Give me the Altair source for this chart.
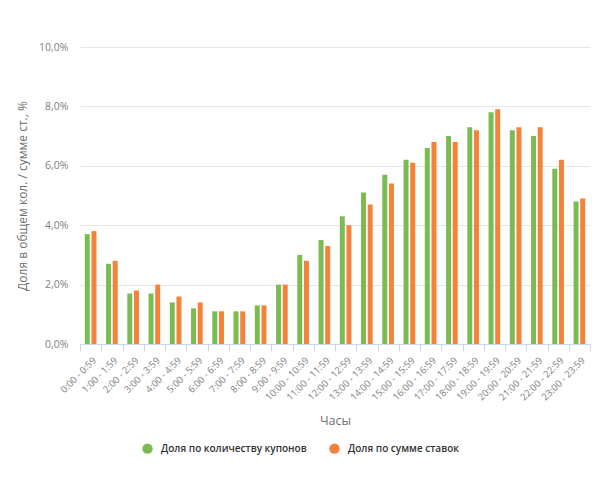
import altair as alt
import pandas as pd

hours = ["0:00 - 0:59", "1:00 - 1:59", "2:00 - 2:59", "3:00 - 3:59", "4:00 - 4:59",
         "5:00 - 5:59", "6:00 - 6:59", "7:00 - 7:59", "8:00 - 8:59", "9:00 - 9:59",
         "10:00 - 10:59", "11:00 - 11:59", "12:00 - 12:59", "13:00 - 13:59",
         "14:00 - 14:59", "15:00 - 15:59", "16:00 - 16:59", "17:00 - 17:59",
         "18:00 - 18:59", "19:00 - 19:59", "20:00 - 20:59", "21:00 - 21:59",
         "22:00 - 22:59", "23:00 - 23:59"]
coupons = [3.7, 2.7, 1.7, 1.7, 1.4, 1.2, 1.1, 1.1, 1.3, 2.0, 3.0, 3.5,
           4.3, 5.1, 5.7, 6.2, 6.6, 7.0, 7.3, 7.8, 7.2, 7.0, 5.9, 4.8]
stakes = [3.8, 2.8, 1.8, 2.0, 1.6, 1.4, 1.1, 1.1, 1.3, 2.0, 2.8, 3.3,
          4.0, 4.7, 5.4, 6.1, 6.8, 6.8, 7.2, 7.9, 7.3, 7.3, 6.2, 4.9]
series = ["Доля по количеству купонов", "Доля по сумме ставок"]
colors = ["#7cbb52", "#f5823b"]

rows = []
for h, a, b in zip(hours, coupons, stakes):
    rows.append({"hour": h, "series": series[0], "value": a})
    rows.append({"hour": h, "series": series[1], "value": b})
df = pd.DataFrame(rows)

font = "Open Sans"

chart = alt.Chart(df).mark_bar().encode(
    x=alt.X("hour:N", sort=hours, title="Часы",
            scale=alt.Scale(paddingInner=0, paddingOuter=0),
            axis=alt.Axis(labelAngle=-45, labelFontSize=9.5, labelColor="#808080",
                          labelFont=font, labelPadding=4,
                          domainColor="#ccd6eb", tickColor="#ccd6eb", tickSize=7,
                          tickBand="extent", grid=False,
                          titleFont=font, titleFontSize=12.5, titleFontWeight="normal",
                          titleColor="#707070", titlePadding=13)),
    xOffset=alt.XOffset("series:N", sort=series,
                        scale=alt.Scale(paddingInner=0.25, paddingOuter=0.72)),
    y=alt.Y("value:Q", title="Доля в общем кол. / сумме ст., %",
            scale=alt.Scale(domain=[0, 10], nice=False),
            axis=alt.Axis(values=[0, 2, 4, 6, 8, 10],
                          labelExpr="replace(format(datum.value, '.1f'), '.', ',') + '%'",
                          domain=False, ticks=False, gridColor="#e6e6e6",
                          labelFont=font, labelFontSize=10.5, labelColor="#808080",
                          labelPadding=12,
                          titleFont=font, titleFontSize=12, titleFontWeight="normal",
                          titleColor="#707070", titlePadding=9)),
    color=alt.Color("series:N", sort=series,
                    scale=alt.Scale(domain=series, range=colors),
                    legend=alt.Legend(title=None, orient="none", legendX=62, legendY=396,
                                      direction="horizontal", symbolType="circle",
                                      symbolSize=110, labelFont=font, labelFontSize=10,
                                      labelFontWeight=600, labelColor="#333333",
                                      labelLimit=0, columnPadding=22,
                                      symbolStrokeWidth=0, labelOffset=8)),
).properties(
    width=510, height=297,
    autosize=alt.AutoSizeParams(type="none"),
    padding={"left": 72, "top": 39, "right": 2, "bottom": 120},
).configure_view(stroke=None)

chart.save("out.html", embed_options={"renderer": "svg", "actions": False})
